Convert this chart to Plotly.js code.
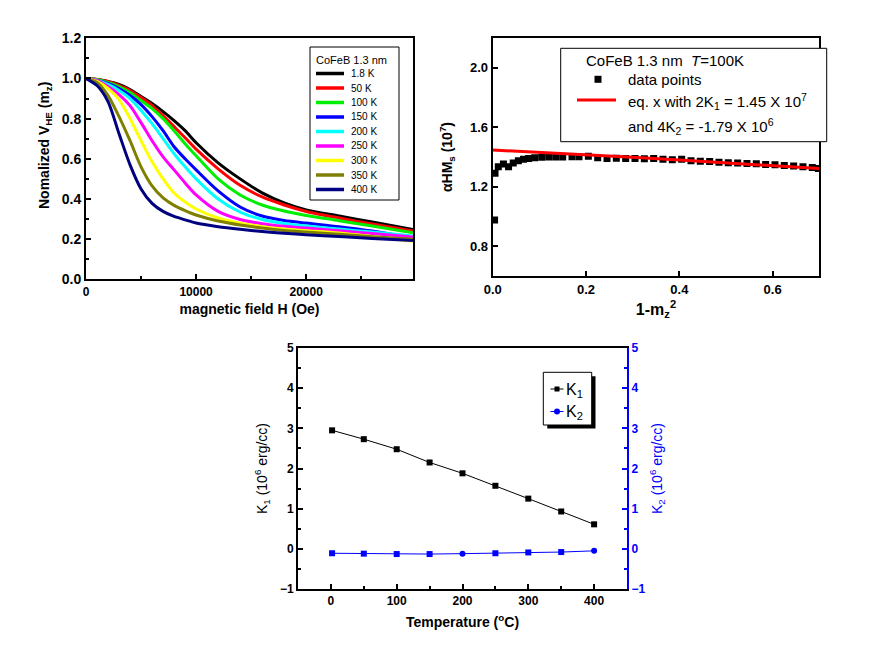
<!DOCTYPE html>
<html>
<head>
<meta charset="utf-8">
<script src="https://cdn.plot.ly/plotly-3.0.1.min.js"></script>
<style>html,body{margin:0;padding:0;background:#fff;}#chart{width:889px;height:646px;}</style>
</head>
<body>
<div id="chart"></div>
<script>
// ---------- DATA ----------
// Panel (a): normalized V_HE vs magnetic field
const fieldOe = [0,1000,2000,3000,4000,5000,6000,7000,8000,9000,10000,12000,14000,16000,18000,20000,23000,26000,29700];
const curveLabels = ['1.8 K','50 K','100 K','150 K','200 K','250 K','300 K','350 K','400 K'];
const v_1p8K = [1.0,0.995,0.985,0.97,0.945,0.91,0.875,0.835,0.79,0.74,0.68,0.58,0.5,0.43,0.38,0.345,0.315,0.285,0.248];
const v_50K  = [1.0,0.995,0.985,0.965,0.94,0.905,0.865,0.815,0.76,0.705,0.648,0.55,0.468,0.41,0.37,0.338,0.305,0.275,0.24];
const v_100K = [1.0,0.995,0.98,0.96,0.93,0.89,0.85,0.8,0.74,0.675,0.615,0.5,0.42,0.37,0.34,0.318,0.292,0.265,0.232];
const v_150K = [1.0,0.99,0.975,0.95,0.915,0.87,0.81,0.74,0.66,0.6,0.545,0.44,0.36,0.315,0.293,0.28,0.262,0.24,0.205];
const v_200K = [1.0,0.99,0.97,0.94,0.9,0.84,0.775,0.7,0.625,0.56,0.5,0.4,0.335,0.298,0.278,0.265,0.25,0.235,0.215];
const v_250K = [1.0,0.99,0.96,0.92,0.865,0.78,0.69,0.61,0.545,0.48,0.42,0.338,0.298,0.277,0.264,0.255,0.242,0.228,0.21];
const v_300K = [1.0,0.985,0.95,0.895,0.8,0.69,0.585,0.5,0.43,0.385,0.35,0.305,0.279,0.262,0.25,0.242,0.23,0.213,0.19];
const v_350K = [1.0,0.98,0.915,0.81,0.69,0.56,0.465,0.405,0.368,0.342,0.32,0.29,0.27,0.255,0.243,0.235,0.224,0.212,0.2];
const v_400K = [1.0,0.965,0.885,0.725,0.57,0.45,0.378,0.338,0.313,0.296,0.28,0.262,0.249,0.238,0.229,0.222,0.213,0.203,0.193];
const curveValues = [v_1p8K,v_50K,v_100K,v_150K,v_200K,v_250K,v_300K,v_350K,v_400K];

// Panel (b): alpha*H*Ms vs 1-mz^2 at T=100K
const oneMinusMz2 = [0.004,0.005,0.012,0.023,0.034,0.044,0.055,0.066,0.077,0.09,0.105,0.12,0.135,0.15,0.17,0.185,0.205,0.225,0.245,0.265,0.285,0.305,0.325,0.345,0.365,0.385,0.405,0.425,0.445,0.465,0.485,0.505,0.525,0.545,0.565,0.585,0.605,0.625,0.645,0.665,0.685,0.698];
const alphaHMs    = [0.976,1.29,1.335,1.353,1.335,1.36,1.375,1.385,1.39,1.395,1.398,1.40,1.40,1.40,1.402,1.402,1.405,1.395,1.39,1.392,1.39,1.39,1.388,1.39,1.385,1.382,1.385,1.375,1.372,1.37,1.365,1.362,1.36,1.357,1.355,1.35,1.348,1.343,1.34,1.335,1.33,1.322];
const fitX = [0,0.1,0.2,0.3,0.4,0.5,0.6,0.7];
const fitY = [1.447,1.432,1.415,1.398,1.38,1.362,1.343,1.322];

// Panel (c): K1, K2 vs temperature
const tempC = [1.8,50,100,150,200,250,300,350,400];
const K1 = [2.95,2.73,2.48,2.15,1.88,1.57,1.25,0.93,0.61];
const K2 = [-0.11,-0.12,-0.13,-0.13,-0.12,-0.11,-0.09,-0.08,-0.05];

// ---------- STYLE ----------
const FONT = 'Liberation Sans, Arial, Helvetica, sans-serif';
const curveColors = ['#000000','#ff0000','#00ee00','#0000ff','#00ffff','#ff00ff','#ffff00','#808000','#000080'];
const K2Symbols = ['square','square','square','square','circle','square','square','square','circle'];
const W = 889, Hh = 646;
const px = v => v / W;
const py = v => 1 - v / Hh;

const traces = [];
curveValues.forEach((vals, i) => {
  traces.push({
    x: fieldOe, y: vals, name: curveLabels[i], type: 'scatter', mode: 'lines',
    line: {color: curveColors[i], width: 3, shape: 'spline', smoothing: 0.8},
    xaxis: 'x', yaxis: 'y'
  });
});
traces.push({
  x: oneMinusMz2, y: alphaHMs, name: 'data points', type: 'scatter', mode: 'markers',
  marker: {symbol: 'square', size: 7, color: '#000'}, xaxis: 'x2', yaxis: 'y2'
});
traces.push({
  x: fitX, y: fitY, name: 'eq. x fit', type: 'scatter', mode: 'lines',
  line: {color: '#ff0000', width: 3}, xaxis: 'x2', yaxis: 'y2'
});
traces.push({
  x: tempC, y: K1, name: 'K1', type: 'scatter', mode: 'lines+markers',
  line: {color: '#000', width: 1}, marker: {symbol: 'square', size: 6, color: '#000'},
  xaxis: 'x3', yaxis: 'y3'
});
traces.push({
  x: tempC, y: K2, name: 'K2', type: 'scatter', mode: 'lines+markers',
  line: {color: '#0000ff', width: 1}, marker: {symbol: K2Symbols, size: 6, color: '#0000ff'},
  xaxis: 'x3', yaxis: 'y4'
});

const baseAxis = {
  showgrid: false, zeroline: false, showline: true, linewidth: 2, linecolor: '#000',
  ticks: 'inside', ticklen: 5, tickwidth: 1.5, tickcolor: '#000', automargin: false
};

const shapes = [];
const annotations = [];
function rectPx(x0, y0, x1, y1, fill, lineColor, lw) {
  shapes.push({type: 'rect', xref: 'paper', yref: 'paper', x0: px(x0), x1: px(x1), y0: py(y1), y1: py(y0),
    fillcolor: fill, line: {color: lineColor || fill, width: lw === undefined ? 1 : lw}, layer: 'above'});
}
function linePx(x0, y0, x1, y1, color, w) {
  shapes.push({type: 'line', xref: 'paper', yref: 'paper', x0: px(x0), x1: px(x1), y0: py(y0), y1: py(y1),
    line: {color: color, width: w}, layer: 'above'});
}
function textPx(x, y, text, size, color, extra) {
  annotations.push(Object.assign({xref: 'paper', yref: 'paper', x: px(x), y: py(y), text: text, showarrow: false,
    xanchor: 'left', yanchor: 'middle', font: {family: FONT, size: size, color: color || '#000'}}, extra || {}));
}

// y title of panel (a), placed where the reference has it
annotations.push({xref: 'paper', yref: 'paper', x: px(45), y: py(146), text: 'Nomalized V<sub>HE</sub> (m<sub>z</sub>)',
  showarrow: false, textangle: -90, xanchor: 'center', yanchor: 'middle',
  font: {family: FONT, size: 14, weight: 'bold', color: '#000'}});

// Legend (a)
rectPx(310, 47, 399, 200, '#fff', '#000', 1);
textPx(314, 60, 'CoFeB 1.3 nm', 11);
curveLabels.forEach((lab, i) => {
  const y = 73.5 + i * 14.5;
  linePx(316, y, 344, y, curveColors[i], 3.5);
  textPx(349, y, lab, 10);
});

// Legend (b)
rectPx(560.7, 48.3, 826.7, 141.7, '#fff', '#000', 1);
textPx(584, 61, 'CoFeB 1.3 nm  <i>T</i>=100K', 15);
rectPx(594.5, 75.8, 601.5, 82.8, '#000', '#000', 0);
textPx(626, 79.5, 'data points', 15);
linePx(577, 100, 616, 100, '#ff0000', 3);
textPx(626, 101, 'eq. x with 2K<sub>1</sub> = 1.45 X 10<sup>7</sup>', 15);
textPx(626, 126, 'and 4K<sub>2</sub> = -1.79 X 10<sup>6</sup>', 15);

// Legend (c)
rectPx(547.3, 376.3, 595.5, 428.5, '#000', '#000', 0);
rectPx(543.3, 372.3, 591.7, 425, '#fff', '#000', 1);
linePx(550.5, 389, 563.5, 389, '#000', 1);
rectPx(554.5, 386.5, 559.5, 391.5, '#000', '#000', 0);
textPx(564, 390, 'K<sub>1</sub>', 16);
linePx(550.5, 411.5, 563.5, 411.5, '#0000ff', 1);
shapes.push({type: 'circle', xref: 'paper', yref: 'paper', x0: px(554), x1: px(560), y0: py(414.5), y1: py(408.5),
  fillcolor: '#0000ff', line: {color: '#0000ff', width: 0}, layer: 'above'});
textPx(564, 412.5, 'K<sub>2</sub>', 16);

const layout = {
  width: W, height: Hh,
  margin: {l: 0, r: 0, t: 0, b: 0, pad: 0},
  paper_bgcolor: '#fff', plot_bgcolor: '#fff',
  showlegend: false,
  font: {family: FONT, color: '#000', size: 12},
  xaxis: Object.assign({}, baseAxis, {
    domain: [px(86), px(413)], anchor: 'y', range: [0, 29700], tickvals: [0, 10000, 20000], tickformat: 'd',
    minor: {tickvals: [5000, 15000, 25000], ticks: 'inside', ticklen: 3, tickcolor: '#000'},
    mirror: true, tickfont: {family: FONT, size: 12, weight: 'bold'},
    title: {text: 'magnetic field H (Oe)', font: {family: FONT, size: 14, weight: 'bold'}, standoff: 6}
  }),
  yaxis: Object.assign({}, baseAxis, {
    domain: [py(279.3), py(38.3)], anchor: 'x', range: [0, 1.2], dtick: 0.2, tick0: 0, tickformat: '.1f',
    minor: {tickvals: [0.1, 0.3, 0.5, 0.7, 0.9, 1.1], ticks: 'inside', ticklen: 3, tickcolor: '#000'},
    mirror: true, tickfont: {family: FONT, size: 14, weight: 'bold'}
  }),
  xaxis2: Object.assign({}, baseAxis, {
    domain: [px(492.7), px(819.3)], anchor: 'y2', range: [0, 0.7], tickvals: [0, 0.2, 0.4, 0.6], tickformat: '.1f',
    mirror: true, tickfont: {family: FONT, size: 13, weight: 'bold'},
    title: {text: '1-m<sub>z</sub><sup>2</sup>', font: {family: FONT, size: 16, weight: 'bold'}, standoff: 8}
  }),
  yaxis2: Object.assign({}, baseAxis, {
    domain: [py(276), py(38)], anchor: 'x2', range: [0.6, 2.2], tickvals: [0.8, 1.2, 1.6, 2.0], tickformat: '.1f',
    mirror: true, tickfont: {family: FONT, size: 13, weight: 'bold'},
    title: {text: '\u03b1HM<sub>s</sub> (10<sup>7</sup>)', font: {family: FONT, size: 14, weight: 'bold'}, standoff: 14}
  }),
  xaxis3: Object.assign({}, baseAxis, {
    domain: [px(298), px(627)], anchor: 'y3', range: [-50, 450], dtick: 100, tick0: 0,
    minor: {dtick: 50, tick0: 0, ticks: 'inside', ticklen: 3, tickcolor: '#000'},
    mirror: true, tickfont: {family: FONT, size: 12, weight: 'bold'},
    title: {text: 'Temperature (<sup>o</sup>C)', font: {family: FONT, size: 14, weight: 'bold'}, standoff: 10}
  }),
  yaxis3: Object.assign({}, baseAxis, {
    domain: [py(589), py(348)], anchor: 'x3', range: [-1, 5], dtick: 1, tick0: 0,
    minor: {dtick: 0.5, tick0: 0, ticks: 'inside', ticklen: 3, tickcolor: '#000'},
    mirror: false, tickfont: {family: FONT, size: 12, weight: 'bold'},
    title: {text: 'K<sub>1</sub> (10<sup>6</sup> erg/cc)', font: {family: FONT, size: 14}, standoff: 9}
  }),
  yaxis4: Object.assign({}, baseAxis, {
    overlaying: 'y3', side: 'right', anchor: 'x3', range: [-1, 5], dtick: 1, tick0: 0,
    linecolor: '#0000ff', tickcolor: '#0000ff',
    minor: {dtick: 0.5, tick0: 0, ticks: 'inside', ticklen: 3, tickcolor: '#0000ff'},
    tickfont: {family: FONT, size: 12, weight: 'bold', color: '#0000ff'},
    title: {text: 'K<sub>2</sub> (10<sup>6</sup> erg/cc)', font: {family: FONT, size: 14, color: '#0000ff'}, standoff: 8}
  }),
  shapes: shapes,
  annotations: annotations
};

Plotly.newPlot('chart', traces, layout, {displayModeBar: false});
</script>
</body>
</html>
